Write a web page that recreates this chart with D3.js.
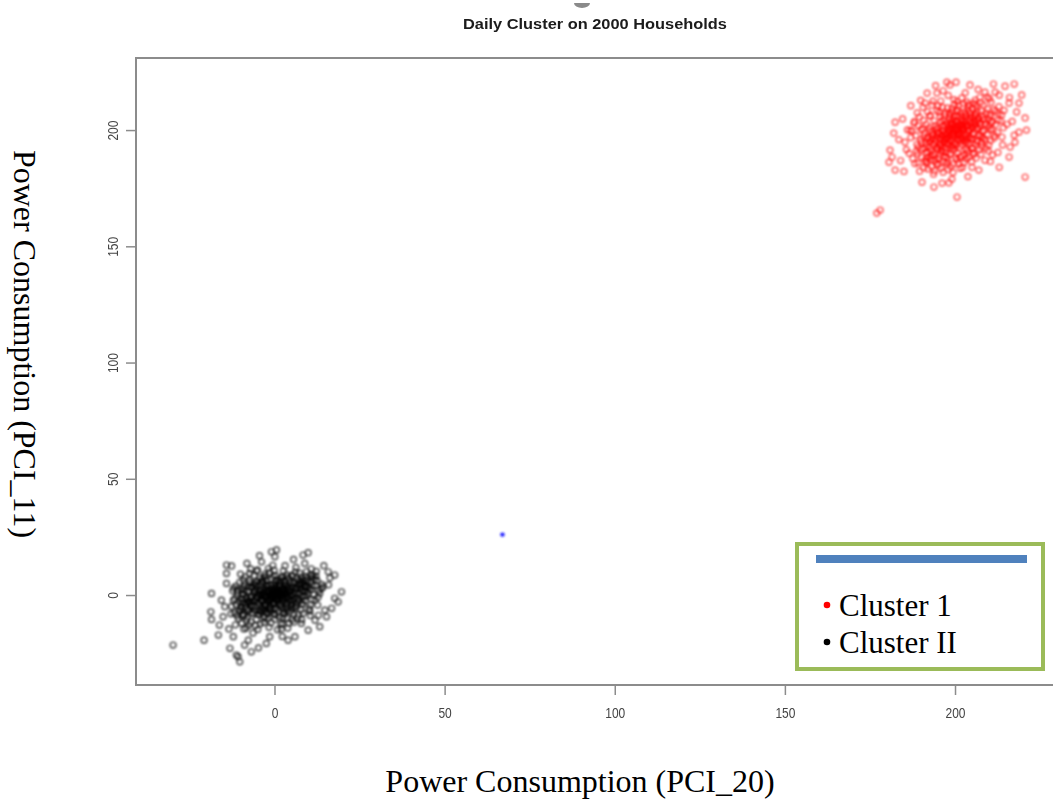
<!DOCTYPE html>
<html>
<head>
<meta charset="utf-8">
<script src="https://cdn.jsdelivr.net/npm/d3@7"></script>
<style>
  body { margin: 0; background: #fff; }
  svg { display: block; }
</style>
</head>
<body>
<script>
// Cluster 1: households around (200, 200)
const cluster1 = [
  [201,200],[202.5,201.3],[199.4,198.6],[203.8,199.2],[198.1,201.7],[200.6,203.4],[204.7,202.6],[197.3,197.9],[201.9,196.8],[199.0,202.1],
  [205.6,204.0],[196.2,199.5],[203.1,205.3],[198.7,195.4],[206.4,200.8],[195.5,196.3],[200.2,206.2],[202.8,194.9],[207.3,203.3],[194.8,200.9],
  [201.5,199.1],[199.9,200.6],[203.4,202.0],[197.9,199.9],[202.2,203.9],[200.8,197.5],[204.9,205.7],[196.8,195.1],[199.3,204.5],[205.1,198.0],
  [197.6,202.9],[203.0,197.4],[201.2,201.8],[198.5,197.2],[206.0,206.5],[194.1,194.6],[200.4,208.0],[204.2,193.9],[208.1,205.1],[193.6,198.0],
  [199.6,199.3],[202.0,202.7],[200.9,195.6],[197.1,204.1],[204.0,200.3],[196.0,192.8],[207.7,208.2],[192.9,195.5],[201.7,207.4],[205.3,196.2],
  [198.2,193.6],[203.7,208.9],[195.9,203.4],[209.0,202.2],[191.8,193.3],[200.0,191.9],[206.9,197.6],[199.1,209.3],[210.2,206.8],[192.4,201.0],
  [202.6,200.4],[198.9,201.1],[201.3,198.0],[204.5,203.8],[196.5,197.6],[203.3,196.4],[199.7,205.6],[205.9,202.0],[197.4,194.1],[202.1,206.0],
  [200.3,193.5],[207.0,201.1],[195.1,199.1],[203.9,210.1],[194.9,192.0],[208.6,199.8],[198.3,207.2],[201.8,204.6],[206.2,209.7],[193.2,196.4],
  [211.0,203.6],[197.0,190.8],[204.6,206.9],[199.5,196.7],[200.7,201.0],[202.9,198.5],[198.0,199.0],[205.0,201.0],[196.3,201.7],[203.5,204.3],
  [200.1,204.0],[201.0,202.5],[199.2,197.8],[202.4,199.7],[204.3,197.0],[197.7,196.5],[200.5,200.0],[203.2,201.6],[198.8,203.0],[201.6,195.2],
  [206.7,204.5],[195.7,194.0],[209.6,209.0],[190.9,197.2],[199.8,211.0],[212.0,208.0],[192.0,190.6],[205.5,211.6],[208.9,195.7],[195.3,207.6],
  [197.6,220.6],[200.3,220.6],[198.5,219.4],[204.4,219.4],[214.7,218.9],[217.4,219.8],[191.8,215.9],[194.7,215.9],[191.2,211.6],[193.2,210.8],
  [202.0,213.8],[205.9,212.9],[208.8,216.3],[211.8,216.3],[213.0,215.0],[215.9,211.6],[218.8,211.6],[220.6,205.2],[221.0,200.0],[218.8,199.1],
  [217.4,197.8],[182.4,203.4],[182.0,198.7],[187.9,203.0],[185.3,194.8],[181.5,188.4],[180.6,186.2],[182.4,182.8],[180.9,191.4],[220.6,179.8],
  [200.6,171.2],[177.0,164.3],[178.0,165.6],[193.8,175.5],[196.2,177.2],[190.3,177.6],[213.0,184.0],[207.0,182.8],[208.8,187.0],[215.9,188.4],
  [216.2,192.7],[213.8,197.0],[186.5,190.0],[188.2,185.6],[184.0,186.9],[189.6,182.3],[187.0,196.8],[190.5,200.6],[186.0,200.1],[188.9,207.4],
  [195.8,212.5],[198.0,214.9],[207.3,214.1],[210.6,212.0],[212.7,204.4],[214.4,208.5],[216.8,203.7],[214.2,201.0],[211.5,196.6],[212.6,190.4],
  [209.8,191.0],[210.4,186.5],[204.9,186.4],[202.2,183.9],[199.4,181.8],[197.5,185.6],[194.0,182.4],[191.5,186.0],[193.4,189.1],[189.2,192.7],
  [203.8,180.0],[198.2,177.3],[205.5,189.5],[214.0,193.6],[218.1,207.8],[196.3,209.9],[192.6,206.0],[185.0,182.2],[183.5,195.9],[206.8,217.5],
  [194.3,219.1],[211.3,219.8],[219.6,215.1],[189.9,212.8],[201.4,188.3],[195.0,187.4],[207.9,193.0],[203.6,191.6],[198.6,189.7],[210.9,200.5],
  [193.5,212.4],[199.7,213.1],[203.4,212.2],[207.6,211.8],[210.1,213.5],
  [190.6,209.8],[195.0,210.4],[197.8,209.5],[201.1,210.6],[205.2,209.2],[208.3,210.8],[212.9,210.1],
  [191.9,207.9],[194.6,208.5],[197.2,207.6],[200.9,208.7],[202.8,207.7],[206.5,208.0],[209.2,207.3],[211.4,208.8],[213.7,206.5],
  [189.5,205.6],[192.7,206.3],[195.6,205.9],[198.6,206.1],[201.0,205.8],[203.3,206.6],[205.7,205.4],[208.0,206.3],[210.5,205.9],[212.8,206.9],
  [188.1,203.7],[190.8,204.2],[193.9,203.9],[196.4,204.4],[198.2,204.8],[200.5,203.6],[202.7,204.1],[204.2,204.9],[206.3,203.7],[208.6,204.3],[210.7,203.5],[213.5,204.0],
  [189.3,201.8],[191.6,202.5],[194.2,202.0],[196.9,201.9],[198.9,202.6],[200.0,201.9],[201.9,202.2],[203.9,201.7],[205.4,202.8],[207.5,202.1],[209.8,201.4],[211.9,202.3],
  [187.4,199.6],[190.0,200.2],[192.5,199.8],[194.5,200.4],[196.7,200.3],[198.4,199.6],[200.8,199.5],[202.2,200.3],[204.4,199.8],[206.6,200.4],[208.0,199.4],[210.3,200.1],[212.5,199.0],
  [188.5,197.6],[191.0,198.4],[193.3,197.9],[195.4,198.3],[197.5,198.2],[199.7,197.9],[201.4,198.6],[203.6,198.1],[205.6,198.7],[207.4,197.8],[209.5,198.3],[211.7,197.6],
  [189.9,195.8],[192.2,196.4],[194.4,195.6],[196.8,196.5],[198.9,195.8],[200.6,196.2],[202.5,195.7],[204.6,196.4],[206.4,195.6],[208.4,196.3],[210.5,195.5],
  [188.8,193.9],[191.3,194.4],[193.6,193.7],[195.8,194.3],[197.9,193.9],[199.8,194.5],[201.9,193.7],[203.5,194.6],[205.9,193.8],[207.8,194.5],[209.9,193.5],
  [190.2,191.8],[192.6,192.3],[194.9,191.7],[197.2,192.2],[199.3,191.6],[201.2,192.4],[203.1,191.8],[205.0,192.5],[207.2,191.5],[209.1,192.2],
  [189.0,189.6],[191.4,190.3],[193.8,189.8],[196.2,190.5],[198.5,189.7],[200.8,190.1],[202.9,189.4],[205.4,190.3],[207.6,189.6],
  [187.6,187.8],[190.1,188.4],[192.9,187.5],[195.3,188.2],[197.7,187.9],[200.2,188.1],[203.3,187.6],[206.2,188.0],
  [189.1,185.9],[191.7,186.4],[194.6,185.7],[196.9,186.3],[199.5,185.4],[202.7,186.1],
  [190.8,183.8],[193.1,184.4],[195.9,183.6],[198.8,184.2],[201.5,183.5],
  [199.0,200.4],[200.7,198.3],[202.4,201.9],[198.3,200.8],[201.8,200.9],[203.0,203.1],[197.0,198.8],[204.8,201.4],[199.8,202.8],[201.4,196.3],
  [196.1,196.0],[205.8,206.9],[194.6,197.3],[203.6,195.5],[200.0,199.8],
  [187.0,210.5],[196.5,216.9],[203.0,216.0],[209.5,214.2],[216.0,214.0],[184.6,204.8],[186.8,199.9],[215.3,202.5],[217.6,194.8],[185.7,191.6],
  [211.0,189.3],[199.1,178.9],[205.0,184.0],
  [191.2,187.1],[192.8,188.9],[194.1,186.8],[195.6,189.4],[197.0,188.6],[193.0,191.0],[194.5,192.6],[196.0,191.3],[197.6,190.2],[199.0,192.8],
  [191.0,192.1],[192.4,194.8],[193.9,196.0],[195.3,193.1],[196.6,195.0],[198.1,194.9],[199.5,193.0],[190.1,194.6],[191.8,196.7],[193.1,199.3],
  [194.8,198.9],[196.1,197.7],[197.4,195.8],[198.6,198.3],[192.0,188.0],[195.0,185.0],[197.8,186.5],[200.5,187.2],[202.0,189.0],[203.8,190.6],
  [205.2,192.0],[206.5,194.9],[207.9,196.9],[204.0,188.4],[201.0,185.7],[198.0,183.0],[196.5,181.9],[193.7,181.0],[192.0,183.3],[188.6,190.9],
  [204.1,207.8],[206.1,210.9],[202.5,211.4],[199.2,207.9],[197.0,206.5],[208.9,202.9],[210.0,204.6],[207.0,205.0],[204.0,211.0],[200.6,212.3]
];

// Cluster II: households around (0, 0)
const cluster2 = [
  [0.4,0.8],[-1.2,0.3],[1.7,-0.6],[-0.5,-1.4],[2.3,1.5],[-2.6,-0.9],[0.9,2.4],[-1.8,1.9],[3.1,0.2],[-3.2,0.7],
  [1.1,-2.3],[-0.3,-2.9],[2.8,2.9],[-2.1,-2.6],[4.2,1.1],[-4.1,-1.8],[0.2,3.6],[3.6,-1.7],[-3.7,2.8],[1.5,0.1],
  [-0.8,1.2],[0.6,-0.9],[2.0,0.7],[-1.6,-0.4],[4.6,2.7],[-4.4,0.3],[1.9,3.8],[-0.9,3.1],[3.4,-3.2],[-2.9,-3.8],
  [0.1,-4.1],[4.8,-0.5],[-4.9,-3.1],[2.6,-2.1],[-1.4,4.2],[0.7,1.6],[-0.2,0.0],[1.3,-1.5],[-2.4,1.0],[3.0,1.9],
  [-3.5,-2.2],[2.2,-0.2],[-1.1,-1.9],[0.5,2.9],[3.9,3.6],[-2.0,3.4],[1.6,-3.6],[-4.3,1.7],[4.4,-2.6],[-0.6,-3.4],
  [2.9,4.4],[-3.1,-4.4],[0.0,1.0],[1.0,0.5],[-0.7,-0.7],[0.3,-1.8],[-1.9,0.8],[2.5,-1.2],[-2.7,2.3],[3.3,0.9],
  [-0.4,2.2],[1.8,1.2],[-1.5,-2.8],[0.8,-2.7],[4.0,0.0],[-3.9,-0.6],[2.1,2.2],[-2.3,-1.3],[1.4,4.8],[-1.3,-4.7],
  [3.7,2.4],[-4.6,2.1],[0.9,-0.3],[-0.1,1.7],[2.7,0.4],[-2.8,0.0],[1.2,2.0],[-1.0,-1.1],[3.5,-0.8],[-3.3,1.4],
  [4.7,1.6],[-4.8,-0.9],[0.3,4.5],[2.4,-3.0],[-2.2,4.6],[4.1,-1.3],[-3.8,-2.9],[1.6,-4.4],[-0.5,0.6],[0.7,0.0],
  [5.6,3.2],[-5.8,-2.7],[6.3,0.9],[-6.1,1.3],[5.2,-3.9],[-5.4,4.1],[7.1,4.6],[-7.3,-4.2],[2.9,6.1],[-3.0,-6.4],
  [6.8,-1.6],[-6.9,-0.4],[8.2,2.1],[-8.0,-3.5],[4.3,6.8],[-4.6,-6.7],[0.8,6.5],[-1.1,-6.2],[7.6,6.0],[-7.5,-6.5],
  [5.9,-5.2],[-5.5,5.6],[9.1,4.0],[-9.3,-1.8],[3.8,-6.0],[-3.6,6.3],[8.8,-0.7],[-8.7,1.9],[6.6,7.2],[-6.2,-7.9],
  [1.9,7.4],[-2.1,-7.6],[9.6,6.8],[-9.8,-5.6],[5.0,8.1],[-4.9,-8.3],[7.9,-3.8],[-7.8,3.6],[0.4,8.4],[-0.2,-8.1],
  [10.2,2.8],[-10.4,-3.0],[6.0,5.3],[-6.4,-5.0],[8.5,5.0],[-8.4,-1.0],[4.6,-7.4],[-4.2,7.3],[9.9,0.6],[-9.5,0.2],
  [2.7,-7.9],[-2.6,8.0],[7.3,1.2],[-7.0,-1.5],[5.5,0.3],[-5.3,-0.8],[6.1,2.6],[-6.3,-2.4],[3.2,5.5],[-3.4,-5.6],
  [7.7,3.0],[-7.6,-2.8],[5.7,-1.9],[-5.9,2.0],[1.4,5.8],[-1.6,-5.7],[8.9,3.3],[-8.6,-4.8],[4.0,7.7],[-4.1,-7.2],
  [6.7,-3.1],[-6.8,3.3],[10.6,5.5],[-10.1,-6.8],[3.5,-5.0],[-3.3,5.1],[9.2,7.9],[-8.9,-8.6],[0.0,-6.0],[11.2,3.9],
  [-29.8,-21.5],[-20.7,-19.4],[-18.5,0.7],[-18.7,-7.2],[-18.5,-10.5],[-14.1,9.3],[-14.1,5.0],[-12.6,12.5],[-14.1,12.9],[-13.1,-22.9],
  [-11.2,-25.8],[-10.2,-28.7],[-10.7,-26.5],[-6.8,-24.4],[-9.2,6.5],[-7.3,9.3],[-3.8,14.3],[-0.9,18.6],[0.6,19.4],[0.1,16.5],
  [8.4,17.2],[9.9,18.2],[8.9,13.6],[15.8,10.0],[17.7,8.6],[19.7,1.4],[17.7,-1.4],[18.7,-2.9],[14.8,-6.5],[13.3,-13.6],
  [15.3,-9.3],[6.0,-17.9],[4.0,-19.4],[-2.4,-20.8],[-1.4,-17.9],[-12.1,-17.9],[-7.7,-19.4],[-15.1,-9.3],[-14.6,-5.0],[-15.6,-2.2],
  [7.9,-12.2],[9.9,-15.1],[11.9,-10.8],[8.9,3.6],[11.9,-2.2],[13.3,0.7],[-11.5,-12.8],[-9.0,-14.6],[-12.8,-8.1],[-10.9,2.4],
  [-11.7,-1.5],[-8.3,-11.0],[-5.6,-13.2],[-3.1,-11.8],[1.8,-12.4],[3.9,-14.2],[5.2,-10.6],[10.4,-6.9],[12.7,-4.3],[13.9,4.6],
  [12.2,8.1],[10.8,11.3],[6.3,11.9],[3.1,12.6],[-1.8,11.4],[-5.0,10.8],[-8.1,13.6],[-10.0,9.0],[-13.4,-14.6],[-16.2,-12.9],
  [-6.3,-16.3],[0.9,-14.9],[15.9,4.4],[16.8,-5.7],[14.5,12.6],[5.6,15.3],[-4.4,16.9],[-12.0,3.0],[-9.6,-8.9],[-2.0,-10.3],
  [2.5,-9.7],[7.0,-8.6],[11.0,7.4],[-0.5,12.8],[-16.5,-17.2],[-8.8,-21.5],[-4.7,-22.7],[2.3,-17.8],[12.9,-8.7],[16.3,7.4],
  [-5.2,10.3],[-1.4,9.7],[2.6,10.4],[6.1,9.8],[9.4,10.1],
  [-8.6,7.8],[-6.0,8.4],[-3.1,7.6],[-0.3,8.2],[2.4,7.9],[5.3,8.6],[7.9,7.7],[11.3,8.5],
  [-10.2,5.6],[-7.4,6.3],[-4.9,5.8],[-2.4,6.4],[0.1,5.7],[2.1,6.3],[4.5,5.6],[7.0,6.4],[9.6,5.8],[12.6,6.1],
  [-11.4,3.8],[-8.8,4.3],[-6.5,3.6],[-4.3,4.4],[-2.3,3.9],[-0.6,4.6],[1.3,3.7],[3.3,4.2],[5.4,3.8],[7.6,4.4],[9.8,3.7],[12.1,4.2],[14.3,3.5],
  [-12.3,1.8],[-9.7,2.4],[-7.8,1.6],[-5.6,2.5],[-3.9,1.9],[-1.7,2.3],[0.3,1.7],[2.5,2.6],[4.4,1.8],[6.5,2.4],[8.6,1.6],[10.8,2.3],[13.0,1.9],
  [-11.0,-0.2],[-8.9,0.4],[-6.6,-0.4],[-4.6,0.3],[-2.9,-0.1],[-1.0,0.4],[1.0,-0.3],[3.0,0.5],[5.0,-0.2],[7.2,0.3],[9.3,-0.4],[11.5,0.2],
  [-12.1,-2.3],[-9.9,-1.7],[-7.7,-2.4],[-5.4,-1.8],[-3.5,-2.5],[-1.3,-1.7],[0.6,-2.2],[2.6,-1.8],[4.7,-2.4],[6.9,-1.6],[9.0,-2.3],[11.0,-1.9],
  [-11.3,-4.2],[-8.9,-3.7],[-6.7,-4.4],[-4.5,-3.8],[-2.5,-4.3],[-0.4,-3.7],[1.7,-4.4],[3.9,-3.8],[6.2,-4.5],[8.4,-3.9],[10.6,-4.4],
  [-10.5,-6.3],[-8.1,-5.7],[-5.8,-6.4],[-3.7,-5.8],[-1.5,-6.5],[0.8,-5.8],[3.0,-6.3],[5.3,-5.7],[7.8,-6.4],[10.2,-5.9],
  [-11.8,-7.7],[-9.2,-8.3],[-6.9,-7.8],[-4.4,-8.5],[-2.1,-7.9],[0.3,-8.6],[2.9,-7.7],[5.6,-8.4],[8.4,-7.8],
  [-10.6,-10.2],[-8.0,-9.7],[-5.3,-10.5],[-2.8,-9.8],[0.1,-10.4],[3.6,-10.1],[6.6,-9.9],
  [-9.6,-12.1],[-6.9,-11.6],[-4.1,-12.4],[-1.0,-11.9],[2.4,-12.5],[5.7,-11.7],
  [-8.3,-14.2],[-4.9,-14.8],[-1.6,-13.9],[2.0,-14.6],
  [0.2,0.2],[-0.9,-0.4],[1.4,0.9],[-1.7,1.3],[0.5,-1.2],[2.4,0.3],[-2.2,-0.3],[1.1,1.6],[-0.3,-0.9],[3.2,1.3],
  [-3.0,-1.0],[0.0,2.4],[1.9,-1.0],[-1.3,-2.2],[2.2,2.9],
  [-9.5,-3.2],[-8.2,-1.5],[-7.0,-3.1],[-6.1,0.8],[-4.8,-1.0],[-3.6,0.5],[-9.8,-5.0],[-7.9,-6.9],[-5.6,-4.9],[-3.9,-7.1],
  [-2.6,-5.0],[-1.2,-7.4],[1.0,-7.2],[2.1,-5.3],[3.7,-7.0],[4.9,-4.6],[6.3,-5.7],[7.4,-2.6],[8.1,-0.5],[9.4,1.7],
  [7.8,4.9],[6.5,3.5],[5.3,5.0],[3.9,2.6],[6.0,-0.9],[8.7,6.6],[10.6,8.7],[11.9,6.8],[3.6,8.8],[-0.8,6.9],
  [-2.9,9.0],[-4.0,5.4],[-6.0,4.8],[-7.1,5.1],[-9.0,3.2],[-10.8,1.2],[-12.6,-4.9],[-11.0,-8.9],[-7.5,-12.9],[-3.1,-9.2],
  [1.4,-9.3],[4.2,-12.1],[8.0,-10.6],[10.5,-8.8],[12.8,-1.0],[13.8,2.8],[12.3,10.2],[7.4,9.4],[-0.1,10.6],[-7.0,11.2]
];

// Lone household between the two clusters
const centroid = [[67, 26]];

const xTicks = [0, 50, 100, 150, 200];
const yTicks = [0, 50, 100, 150, 200];

const legendLabels = ["Cluster 1", "Cluster II"];
const legendColors = ["#ff0000", "#000000"];

const W = 1053, H = 800;
const svg = d3.select("body").append("svg").attr("width", W).attr("height", H);

const defs = svg.append("defs");
defs.append("filter").attr("id", "soft")
  .attr("x", "-10%").attr("y", "-10%").attr("width", "120%").attr("height", "120%")
  .append("feGaussianBlur").attr("stdDeviation", 0.8);
defs.append("filter").attr("id", "softText")
  .append("feGaussianBlur").attr("stdDeviation", 0.45);

const x = d3.scaleLinear().domain([-40.7, 231]).range([136, 1060.5]);
const y = d3.scaleLinear().domain([-38.7, 231]).range([685, 58]);

// Remnant of a marker clipped at the top edge
svg.append("path")
  .attr("d", "M574,3 A8,5 0 0 0 590,3 Z")
  .attr("fill", "#8a8a8a")
  .attr("filter", "url(#softText)");

// Title
svg.append("text")
  .attr("x", 595).attr("y", 29)
  .attr("text-anchor", "middle")
  .attr("font-family", "Liberation Sans, Arial, sans-serif")
  .attr("font-weight", "bold")
  .attr("font-size", 15)
  .attr("textLength", 264)
  .attr("lengthAdjust", "spacingAndGlyphs")
  .attr("fill", "#1a1a1a")
  .attr("filter", "url(#softText)")
  .text("Daily Cluster on 2000 Households");

// Plot frame
svg.append("rect")
  .attr("x", x.range()[0]).attr("y", y.range()[1])
  .attr("width", x.range()[1] - x.range()[0])
  .attr("height", y.range()[0] - y.range()[1])
  .attr("fill", "none")
  .attr("stroke", "#8c8c8c")
  .attr("stroke-width", 2)
  .attr("filter", "url(#softText)");

// Axes
const xAxis = svg.append("g")
  .attr("transform", `translate(0,${y.range()[0]})`)
  .attr("filter", "url(#softText)")
  .call(d3.axisBottom(x).tickValues(xTicks).tickSize(10).tickPadding(12).tickFormat(d3.format("d")));
xAxis.select(".domain").remove();
xAxis.selectAll(".tick line").attr("stroke", "#8c8c8c").attr("stroke-width", 1.5);
xAxis.selectAll(".tick text")
  .attr("fill", "#444")
  .attr("font-family", "Liberation Sans, Arial, sans-serif")
  .attr("font-size", 15)
  .attr("transform", "scale(0.8,1)");

const yAxis = svg.append("g")
  .attr("transform", `translate(${x.range()[0]},0)`)
  .attr("filter", "url(#softText)")
  .call(d3.axisLeft(y).tickValues(yTicks).tickSize(10).tickFormat(d3.format("d")));
yAxis.select(".domain").remove();
yAxis.selectAll(".tick line").attr("stroke", "#8c8c8c").attr("stroke-width", 1.5);
yAxis.selectAll(".tick text")
  .attr("x", 0).attr("dy", "0.35em")
  .attr("transform", "translate(-23,0) rotate(-90) scale(0.8,1)")
  .attr("text-anchor", "middle")
  .attr("fill", "#444")
  .attr("font-family", "Liberation Sans, Arial, sans-serif")
  .attr("font-size", 15);

// Points
const clip = defs.append("clipPath").attr("id", "plotClip");
clip.append("rect")
  .attr("x", x.range()[0]).attr("y", y.range()[1])
  .attr("width", x.range()[1] - x.range()[0])
  .attr("height", y.range()[0] - y.range()[1]);

const pts = svg.append("g").attr("clip-path", "url(#plotClip)").attr("filter", "url(#soft)");

pts.append("g").selectAll("circle").data(cluster2).join("circle")
  .attr("cx", d => x(d[0])).attr("cy", d => y(d[1]))
  .attr("r", 2.9)
  .attr("fill", "none")
  .attr("stroke", "rgba(0,0,0,0.72)")
  .attr("stroke-width", 1.45);

pts.append("g").selectAll("circle").data(cluster1).join("circle")
  .attr("cx", d => x(d[0])).attr("cy", d => y(d[1]))
  .attr("r", 2.9)
  .attr("fill", "none")
  .attr("stroke", "rgba(255,0,0,0.66)")
  .attr("stroke-width", 1.45);

pts.append("g").selectAll("circle").data(centroid).join("circle")
  .attr("cx", d => x(d[0])).attr("cy", d => y(d[1]))
  .attr("r", 2.2)
  .attr("fill", "#1a1aff");

// Axis titles
svg.append("text")
  .attr("x", 580).attr("y", 792)
  .attr("text-anchor", "middle")
  .attr("font-family", "Liberation Serif, Times New Roman, serif")
  .attr("font-size", 32)
  .attr("fill", "#000")
  .text("Power Consumption (PCI_20)");

svg.append("text")
  .attr("transform", "translate(14,344) rotate(90)")
  .attr("text-anchor", "middle")
  .attr("font-family", "Liberation Serif, Times New Roman, serif")
  .attr("font-size", 32)
  .attr("fill", "#000")
  .text("Power Consumption (PCI_11)");

// Legend
const legend = svg.append("g");
legend.append("rect")
  .attr("x", 797).attr("y", 544)
  .attr("width", 246).attr("height", 125)
  .attr("fill", "#fff")
  .attr("stroke", "#9bbb59")
  .attr("stroke-width", 4);
legend.append("rect")
  .attr("x", 816).attr("y", 555)
  .attr("width", 211).attr("height", 8)
  .attr("fill", "#4f81bd");

const items = legend.selectAll("g.item").data(legendLabels).join("g")
  .attr("class", "item")
  .attr("transform", (d, i) => `translate(827,${605 + i * 37})`);
items.append("circle")
  .attr("r", 3.3)
  .attr("fill", (d, i) => legendColors[i]);
items.append("text")
  .attr("x", 12).attr("y", 11)
  .attr("font-family", "Liberation Serif, Times New Roman, serif")
  .attr("font-size", 31)
  .attr("fill", "#000")
  .text(d => d);
</script>
</body>
</html>
